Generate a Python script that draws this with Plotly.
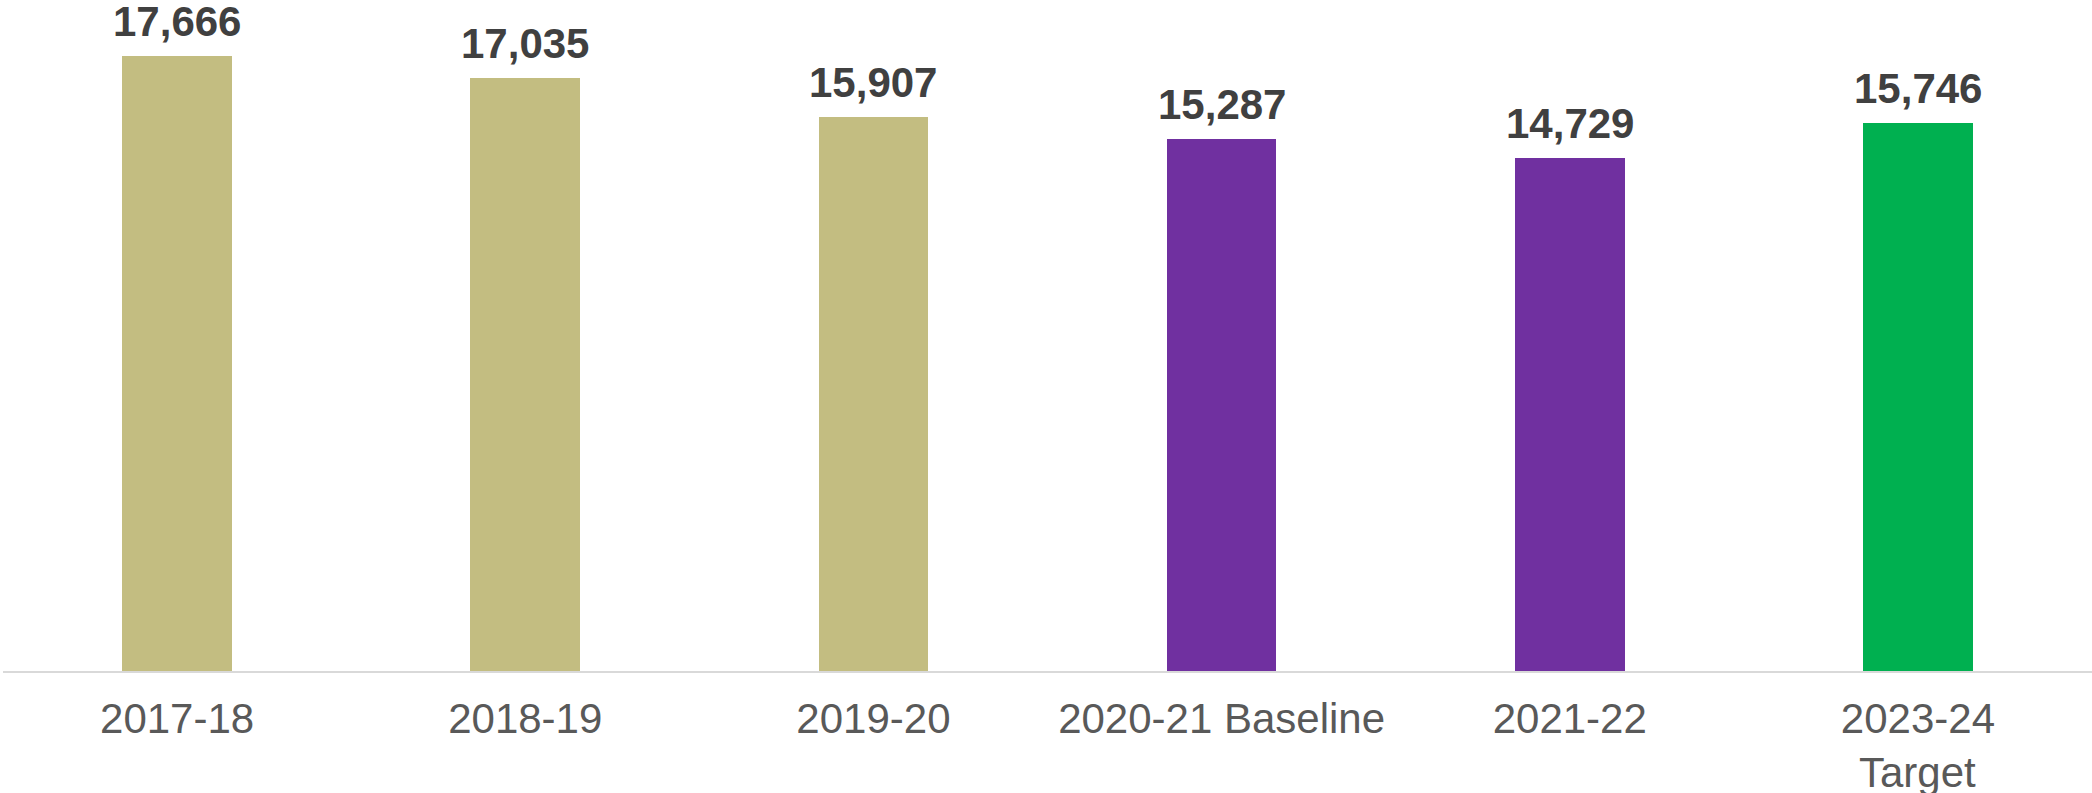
import plotly.graph_objects as go

categories = ["2017-18", "2018-19", "2019-20", "2020-21 Baseline", "2021-22", "2023-24"]
tick_labels = ["2017-18", "2018-19", "2019-20", "2020-21 Baseline", "2021-22", "2023-24"]
extra_label = "Target"
values = [17666, 17035, 15907, 15287, 14729, 15746]
bar_colors = ["#C3BD81", "#C3BD81", "#C3BD81", "#7030A0", "#7030A0", "#00B050"]

FONT = "Liberation Sans, Arial, sans-serif"
xs = list(range(len(categories)))

fig = go.Figure()
fig.add_trace(go.Bar(
    x=xs,
    y=values,
    marker=dict(color=bar_colors, line=dict(width=0)),
    width=0.315,
    hoverinfo="skip",
))

for xi, v in zip(xs, values):
    fig.add_annotation(
        x=xi, y=v, xref="x", yref="y",
        text=f"{v:,}", showarrow=False,
        yanchor="bottom", yshift=10, borderpad=0,
        font=dict(family=FONT, size=42, color="#404040", weight="bold"),
    )

fig.add_annotation(
    x=xs[-1], y=0, xref="x", yref="y",
    text=extra_label, showarrow=False,
    yanchor="top", yshift=-77, borderpad=0,
    font=dict(family=FONT, size=42, color="#595959"),
)

fig.update_layout(
    width=2092, height=793,
    margin=dict(l=3, r=0, t=0, b=122),
    paper_bgcolor="white", plot_bgcolor="white",
    showlegend=False,
    bargap=0,
    xaxis=dict(
        range=[-0.5, 5.5],
        tickmode="array",
        tickvals=xs,
        ticktext=tick_labels,
        showgrid=False, zeroline=False,
        showline=True, linecolor="#D9D9D9", linewidth=2,
        ticks="",
        ticklabelstandoff=10,
        tickfont=dict(family=FONT, size=42, color="#595959"),
    ),
    yaxis=dict(
        range=[0, 19276],
        visible=False,
        showgrid=False, zeroline=False,
    ),
)

fig.write_html(
    "out.html",
    config={"displayModeBar": False, "staticPlot": True},
    post_script="document.body.style.margin='0';document.body.style.overflow='hidden';",
)
